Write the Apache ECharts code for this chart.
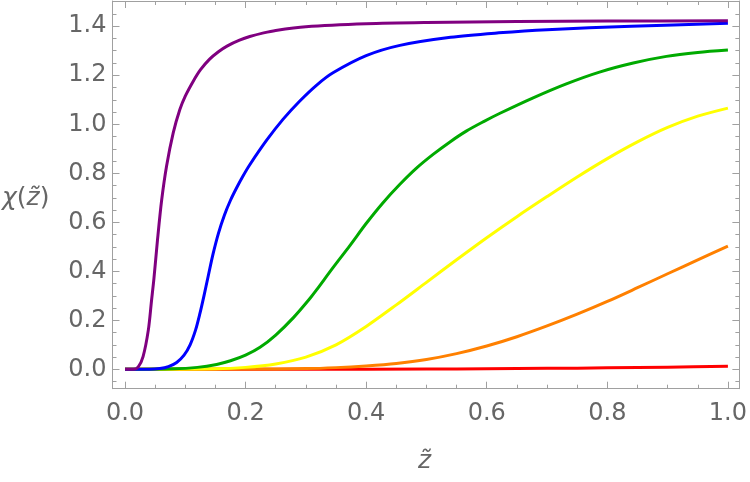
<!DOCTYPE html>
<html>
<head>
<meta charset="utf-8">
<script src="https://cdn.jsdelivr.net/npm/echarts@6/dist/echarts.min.js"></script>
<style>
html,body{margin:0;padding:0;background:#fff;}
#chart{width:750px;height:482px;}
</style>
</head>
<body>
<div id="chart"></div>
<script>
// Tick labels
var xTicks = [0, 0.2, 0.4, 0.6, 0.8, 1.0];
var yTicks = [0, 0.2, 0.4, 0.6, 0.8, 1.0, 1.2, 1.4];

// Series values (x, y)
var redX    = [0, 0.3, 0.5, 0.6, 0.7, 0.8, 0.9, 1.0];
var redY    = [0, 0, 0.001, 0.002, 0.004, 0.006, 0.009, 0.013];

var orangeX = [0, 0.2, 0.3, 0.35, 0.4, 0.45, 0.5, 0.55, 0.6, 0.65, 0.7, 0.75, 0.8, 0.85, 0.9, 0.95, 1.0];
var orangeY = [0, 0.001, 0.003, 0.007, 0.014, 0.024, 0.04, 0.064, 0.095, 0.133, 0.177, 0.225, 0.277, 0.333, 0.39, 0.447, 0.503];

var yellowX = [0, 0.15, 0.2, 0.25, 0.3, 0.35, 0.4, 0.45, 0.5, 0.55, 0.6, 0.65, 0.7, 0.75, 0.8, 0.85, 0.9, 0.95, 1.0];
var yellowY = [0, 0.002, 0.008, 0.022, 0.05, 0.10, 0.175, 0.263, 0.355, 0.447, 0.537, 0.623, 0.705, 0.785, 0.86, 0.928, 0.987, 1.033, 1.066];

var greenX  = [0, 0.08, 0.12, 0.152, 0.175, 0.2, 0.224, 0.25, 0.279, 0.307, 0.318, 0.345, 0.373, 0.4, 0.428, 0.456, 0.483, 0.511, 0.539, 0.566, 0.594, 0.622, 0.677, 0.732, 0.787, 0.843, 0.898, 0.95, 1.0];
var greenY  = [0, 0.002, 0.008, 0.02, 0.035, 0.058, 0.09, 0.14, 0.21, 0.29, 0.325, 0.415, 0.505, 0.595, 0.68, 0.755, 0.82, 0.877, 0.928, 0.972, 1.01, 1.045, 1.108, 1.165, 1.213, 1.25, 1.277, 1.293, 1.303];

var blueX   = [0, 0.04, 0.058, 0.072, 0.0857, 0.098, 0.108, 0.117, 0.124, 0.131, 0.138, 0.146, 0.155, 0.165, 0.175, 0.185, 0.196, 0.207, 0.235, 0.262, 0.29, 0.318, 0.345, 0.4, 0.456, 0.54, 0.62, 0.7, 0.84, 1.0];
var blueY   = [0, 0, 0.003, 0.011, 0.028, 0.058, 0.10, 0.16, 0.225, 0.30, 0.38, 0.47, 0.555, 0.63, 0.69, 0.74, 0.79, 0.835, 0.935, 1.02, 1.095, 1.16, 1.21, 1.28, 1.322, 1.355, 1.373, 1.386, 1.400, 1.412];

var purpleX = [0, 0.0138, 0.022, 0.03, 0.0387, 0.044, 0.048, 0.054, 0.0608, 0.069, 0.08, 0.091, 0.1, 0.113, 0.125, 0.14, 0.155, 0.17, 0.19, 0.207, 0.23, 0.25, 0.3, 0.4, 0.5, 0.65, 0.8, 1.0];
var purpleY = [0, 0, 0.01, 0.052, 0.16, 0.28, 0.37, 0.53, 0.69, 0.83, 0.965, 1.06, 1.115, 1.175, 1.222, 1.265, 1.296, 1.32, 1.343, 1.358, 1.373, 1.383, 1.398, 1.41, 1.415, 1.419, 1.421, 1.422];

var seriesDefs = [
  {name: 'red',    color: '#ff0000', xs: redX,    ys: redY},
  {name: 'orange', color: '#ff8000', xs: orangeX, ys: orangeY},
  {name: 'yellow', color: '#ffff00', xs: yellowX, ys: yellowY},
  {name: 'green',  color: '#00aa00', xs: greenX,  ys: greenY},
  {name: 'blue',   color: '#0000ff', xs: blueX,   ys: blueY},
  {name: 'purple', color: '#800080', xs: purpleX, ys: purpleY}
];

function pairs(xs, ys) { return xs.map(function (x, i) { return [x, ys[i]]; }); }
function steps(a, b, s) { var r = []; for (var k = Math.round(a / s); k <= Math.round(b / s); k++) r.push(+(k * s).toFixed(4)); return r; }

var xMinor = steps(0, 1.0, 0.05);
var yMinor = steps(-0.05, 1.5, 0.05);

var XMIN = -0.0207, XMAX = 1.019, YMIN = -0.079, YMAX = 1.503;
var frameColor = '#a0a0a0';
var labelColor = '#666666';
var labelFont = 'DejaVu Sans';

function xAx(pos, vals, len, showLine, showLabel) {
  return {
    type: 'value', position: pos, min: XMIN, max: XMAX,
    axisLine: {show: showLine, onZero: false, lineStyle: {color: frameColor, width: 1}},
    axisTick: {show: true, inside: true, length: len, customValues: vals, lineStyle: {color: frameColor, width: 1}},
    axisLabel: showLabel ? {show: true, customValues: vals, margin: 13, color: labelColor, fontSize: 24, fontFamily: labelFont,
      formatter: function (v) { return v.toFixed(1); }} : {show: false},
    splitLine: {show: false}
  };
}
function yAx(pos, vals, len, showLine, showLabel) {
  return {
    type: 'value', position: pos, min: YMIN, max: YMAX,
    axisLine: {show: showLine, onZero: false, lineStyle: {color: frameColor, width: 1}},
    axisTick: {show: true, inside: true, length: len, customValues: vals, lineStyle: {color: frameColor, width: 1}},
    axisLabel: showLabel ? {show: true, customValues: vals, margin: 6, color: labelColor, fontSize: 24, fontFamily: labelFont,
      formatter: function (v) { return v.toFixed(1); }} : {show: false},
    splitLine: {show: false}
  };
}

var chart = echarts.init(document.getElementById('chart'), null, {renderer: 'canvas'});
chart.setOption({
  animation: false,
  backgroundColor: '#ffffff',
  grid: {left: 112.5, top: 1, right: 10, bottom: 93.3, containLabel: false},
  xAxis: [
    xAx('bottom', xTicks, 7, true, true),
    xAx('bottom', xMinor, 4, false, false),
    xAx('top', xTicks, 7, true, false),
    xAx('top', xMinor, 4, false, false)
  ],
  yAxis: [
    yAx('left', yTicks, 7, true, true),
    yAx('left', yMinor, 4, false, false),
    yAx('right', yTicks, 7, true, false),
    yAx('right', yMinor, 4, false, false)
  ],
  series: seriesDefs.map(function (d) {
    return {
      name: d.name, type: 'line', xAxisIndex: 0, yAxisIndex: 0,
      data: pairs(d.xs, d.ys), showSymbol: false, symbol: 'none',
      smooth: 0.3,
      lineStyle: {color: d.color, width: 3, join: 'round', cap: 'butt'}, itemStyle: {color: d.color},
      clip: true
    };
  }),
  graphic: [
    {
      type: 'text', left: 2, top: 186,
      style: {
        text: '{i|χ}{n|(}{i|z̃}{n|)}',
        rich: {
          i: {fontFamily: labelFont, fontStyle: 'italic', fontSize: 25, fill: labelColor},
          n: {fontFamily: labelFont, fontSize: 25, fill: labelColor}
        }
      }
    },
    {
      type: 'text', left: 418, top: 449,
      style: {text: 'z̃', font: 'italic 25px "DejaVu Sans"', fill: labelColor}
    }
  ]
});
</script>
</body>
</html>
